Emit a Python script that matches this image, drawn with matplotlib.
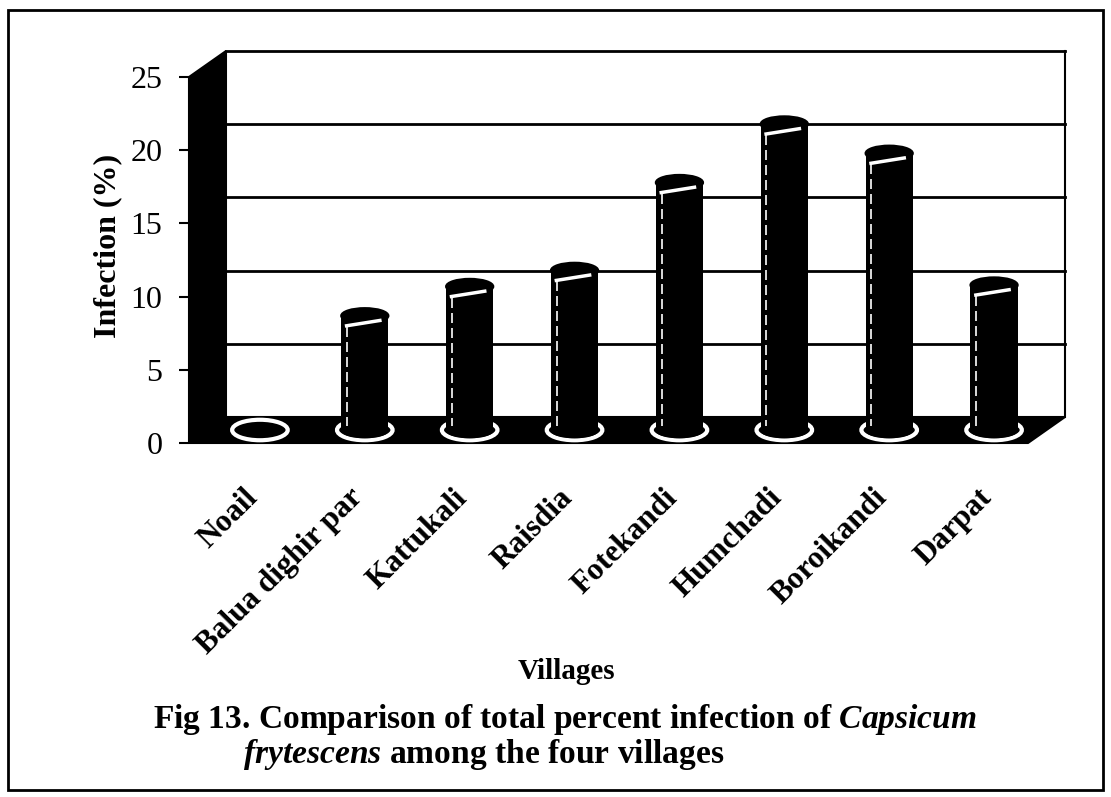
import matplotlib
matplotlib.use("Agg")
import matplotlib.pyplot as plt
from matplotlib.patches import Polygon, Ellipse, Rectangle
from matplotlib.transforms import ScaledTranslation

plt.rcParams['font.family'] = ['Liberation Serif', 'DejaVu Serif']
plt.rcParams['font.weight'] = 'bold'
plt.rcParams['mathtext.fontset'] = 'custom'
plt.rcParams['mathtext.rm'] = 'Liberation Serif:bold'
plt.rcParams['mathtext.it'] = 'Liberation Serif:italic:bold'

villages = ['Noail', 'Balua dighir par', 'Kattukali', 'Raisdia',
            'Fotekandi', 'Humchadi', 'Boroikandi', 'Darpat']
infection = [0, 7.8, 9.8, 10.9, 16.9, 20.9, 18.9, 9.9]
yticks = [0, 5, 10, 15, 20, 25]

W, H = 1111, 797
fig = plt.figure(figsize=(W / 100, H / 100), dpi=100)

# front plane of the 3d box in pixels: x 189..1028, y 443..77
ax = fig.add_axes([189 / W, 1 - 443 / H, (1028 - 189) / W, (443 - 77) / H])
ax.set_xlim(-0.5, 7.5)
ax.set_ylim(0, 25)
for s in ax.spines.values():
    s.set_visible(False)

# depth offset of the back wall (in data units)
dx = 37 / 104.9
dy = 26 / 14.64
x0, x1 = -0.5, 7.5

# floor
ax.add_patch(Polygon([(x0, 0), (x0 + dx, dy), (x1 + dx, dy), (x1, 0)],
                     closed=True, fc='black', ec='black', lw=1.5, zorder=1, clip_on=False))
# left wall
ax.add_patch(Polygon([(x0, 0), (x0, 25), (x0 + dx, 25 + dy), (x0 + dx, dy)],
                     closed=True, fc='black', ec='black', lw=1.5, zorder=2, clip_on=False))
# back wall gridlines
for v in yticks[1:]:
    ax.plot([x0 + dx, x1 + dx], [v + dy, v + dy], color='black', lw=2, zorder=1, clip_on=False)
ax.plot([x1 + dx, x1 + dx], [dy, 25 + dy], color='black', lw=1.5, zorder=1, clip_on=False)

# cylinders
bw = 0.45
eh = 1.05
xc = [i + dx / 2 for i in range(len(villages))]
yb = dy / 2
for x, v in zip(xc, infection):
    ax.add_patch(Ellipse((x, yb), bw + 0.08, eh + 0.35, fc='black', ec='white',
                         lw=3, zorder=3, clip_on=False))
    if v <= 0:
        continue
    ax.add_patch(Ellipse((x, yb), bw, eh, fc='black', ec='black', zorder=4, clip_on=False))
ax.bar([x for x, v in zip(xc, infection) if v > 0],
       [v for v in infection if v > 0], width=bw, bottom=yb,
       color='black', zorder=4, clip_on=False)
for x, v in zip(xc, infection):
    if v <= 0:
        continue
    top = yb + v
    ax.add_patch(Ellipse((x, top), bw, eh, fc='black', ec='black', lw=1.5,
                         zorder=5, clip_on=False))
    # highlights
    ax.plot([x - 0.19, x + 0.16], [top - 0.7, top - 0.3], color='white', lw=2.5,
            solid_capstyle='butt', zorder=6, clip_on=False)
    ax.plot([x - 0.17, x - 0.17], [top - 0.75, yb + 0.3], color='white', lw=1.2,
            ls=(0, (6, 3)), zorder=6, clip_on=False)

# axes ticks
ax.set_yticks(yticks)
ax.set_yticklabels([str(t) for t in yticks], fontsize=23, fontweight='normal')
ax.tick_params(axis='y', direction='out', length=7, width=1.5, pad=12)
ax.set_xticks(range(len(villages)))
ax.set_xticklabels(villages, rotation=45, ha='right', va='top',
                   rotation_mode='anchor', fontsize=22.5, fontweight='bold')
ax.tick_params(axis='x', length=0, pad=29)
off = ScaledTranslation(2 / 100, 0, fig.dpi_scale_trans)
for lab in ax.get_xticklabels():
    lab.set_transform(lab.get_transform() + off)

fig.text(108 / W, 1 - 246 / H, 'Infection (%)', rotation=90, ha='center',
         va='center', fontsize=23, fontweight='bold')
fig.text(566 / W, 1 - 679 / H, 'Villages', ha='center', va='baseline',
         fontsize=21, fontweight='bold')

cap1 = fig.text(153 / W, 1 - 728 / H,
                r'Fig 13. Comparison of total percent infection of $\mathit{Capsicum}$',
                ha='left', va='baseline', fontsize=24, fontweight='bold')
cap2 = fig.text(243 / W, 1 - 763 / H,
                r'$\mathit{frytescens}$ among the four villages',
                ha='left', va='baseline', fontsize=24, fontweight='bold')
# fit first caption line to its width in the picture
fig.canvas.draw()
w1 = cap1.get_window_extent().width
fs = 24 * 824 / w1
cap1.set_fontsize(fs)
cap2.set_fontsize(fs)

# frame around the figure
fig.patches.append(Rectangle((8 / W, 1 - 790 / H), (1103 - 8) / W, (790 - 10) / H,
                             transform=fig.transFigure, fill=False, ec='black', lw=2))

fig.savefig('out.png', dpi=100)
